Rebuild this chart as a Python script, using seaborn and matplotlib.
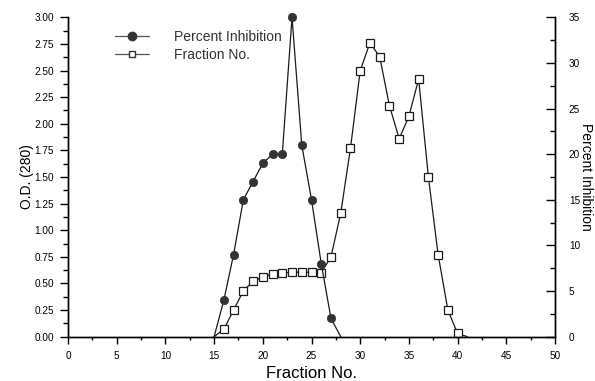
import numpy as np
import pandas as pd
import matplotlib
matplotlib.use("Agg")
import matplotlib.pyplot as plt
from matplotlib.lines import Line2D
from matplotlib.ticker import MultipleLocator, FormatStrFormatter
import seaborn as sns

# Fraction number and O.D. (280) of the eluted protein (open squares)
od_fraction = [15, 16, 17, 18, 19, 20, 21, 22, 23, 24, 25, 26, 27, 28,
               29, 30, 31, 32, 33, 34, 35, 36, 37, 38, 39, 40, 41]
od_values = [0.0, 0.07, 0.25, 0.43, 0.52, 0.56, 0.59, 0.60, 0.605, 0.605,
             0.605, 0.60, 0.75, 1.16, 1.77, 2.50, 2.76, 2.63, 2.17, 1.86,
             2.07, 2.42, 1.50, 0.77, 0.25, 0.03, 0.0]

# Fraction number and percent inhibition (filled circles)
inh_fraction = [15, 16, 17, 18, 19, 20, 21, 22, 23, 24, 25, 26, 27, 28]
inh_values = [0, 4, 9, 15, 17, 19, 20, 20, 35, 21, 15, 8, 2, 0]

legend_labels = ["Percent Inhibition", "Fraction No."]

od_df = pd.DataFrame({"fraction": od_fraction, "od": od_values})
inh_df = pd.DataFrame({"fraction": inh_fraction, "inhibition": inh_values})

sns.set_style("ticks")
plt.rcParams["font.family"] = ["Liberation Sans", "DejaVu Sans"]

fig = plt.figure(figsize=(5.95, 3.81), dpi=100)
ax = fig.add_axes([0.1143, 0.1163, 0.8185, 0.8383])
ax2 = ax.twinx()

line_col = "#1a1a1a"

sns.lineplot(data=od_df, x="fraction", y="od", ax=ax, color=line_col,
             linewidth=0.9, marker="s", markersize=5.5,
             markerfacecolor="white", markeredgecolor=line_col,
             markeredgewidth=0.9, markevery=slice(1, -1), clip_on=False)
sns.lineplot(data=inh_df, x="fraction", y="inhibition", ax=ax2, color=line_col,
             linewidth=0.9, marker="o", markersize=6,
             markerfacecolor="#333333", markeredgecolor="#333333",
             markeredgewidth=0.5, markevery=slice(1, -1), clip_on=False)

ax.set_xlim(0, 50)
ax.set_ylim(0, 3.0)
ax2.set_ylim(0, 35)

ax.xaxis.set_major_locator(MultipleLocator(5))
ax.xaxis.set_minor_locator(MultipleLocator(2.5))
ax.yaxis.set_major_locator(MultipleLocator(0.25))
ax.yaxis.set_minor_locator(MultipleLocator(0.125))
ax.yaxis.set_major_formatter(FormatStrFormatter("%.2f"))
ax2.yaxis.set_major_locator(MultipleLocator(5))
ax2.yaxis.set_minor_locator(MultipleLocator(2.5))

for a in (ax, ax2):
    a.spines["top"].set_visible(False)
    for s in a.spines.values():
        s.set_color("black")
        s.set_linewidth(1.0)

ax.tick_params(axis="x", which="major", length=5, width=1.0,
               labelsize=7.2, labelcolor="black", direction="out",
               color="black", pad=5)
ax.tick_params(axis="x", which="minor", length=2.5, width=1.0,
               direction="out", color="black")
ax.tick_params(axis="y", which="major", length=6, width=1.0,
               labelsize=7.2, labelcolor="black", direction="out",
               color="black", pad=4)
ax.tick_params(axis="y", which="minor", length=3.5, width=1.0,
               direction="out", color="black")
ax2.tick_params(axis="y", which="major", length=6.5, width=1.0,
                labelsize=7.2, labelcolor="black", direction="in",
                color="black", pad=10)
ax2.tick_params(axis="y", which="minor", length=3.5, width=1.0,
                direction="in", color="black")

ax.set_xlabel("Fraction No.", fontsize=12, labelpad=4, color="black")
ax.set_ylabel("O.D. (280)", fontsize=10, labelpad=0, color="black")
ax2.set_ylabel("Percent Inhibition", fontsize=10, rotation=270,
               labelpad=9, color="black")

handles = [
    Line2D([0], [0], color="#555555", linewidth=0.9, marker="o",
           markersize=6, markerfacecolor="#333333", markeredgecolor="#333333"),
    Line2D([0], [0], color="#555555", linewidth=0.9, marker="s",
           markersize=5, markerfacecolor="white", markeredgecolor="#333333"),
]
ax2.legend(handles, legend_labels, loc="upper left",
           bbox_to_anchor=(115 / 595, 1 - 30 / 381),
           bbox_transform=fig.transFigure, borderaxespad=0, borderpad=0,
           frameon=False, fontsize=10,
           handlelength=2.45, handletextpad=1.8, labelspacing=0.3,
           labelcolor="#333333")

fig.savefig("out.png", dpi=100)
